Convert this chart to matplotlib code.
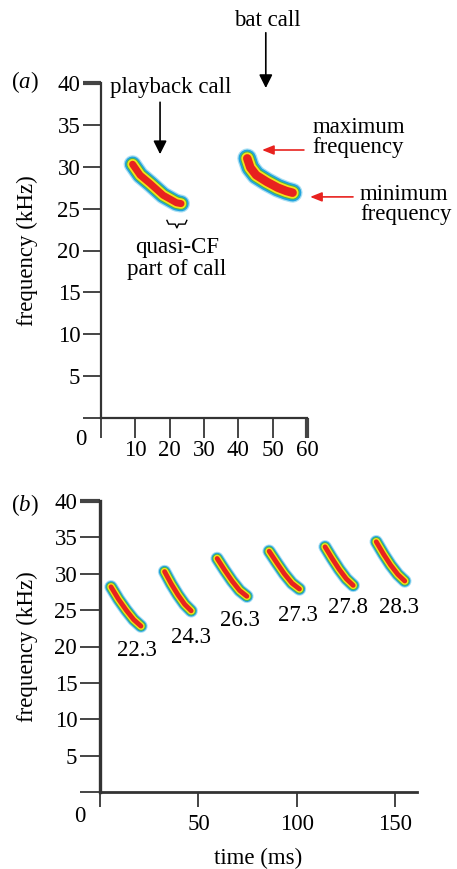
import matplotlib
matplotlib.use('Agg')
import matplotlib.pyplot as plt

plt.rcParams['font.family'] = ['Liberation Serif', 'DejaVu Serif']
plt.rcParams['font.size'] = 16.5
plt.rcParams['mathtext.fontset'] = 'custom'
plt.rcParams['mathtext.rm'] = 'Liberation Serif'
plt.rcParams['mathtext.it'] = 'Liberation Serif:italic'

# panel (a): playback call and bat call contours (time ms, frequency kHz)
playback_t = [9.2, 11.4, 14.3, 18.1, 22.0, 23.3]
playback_f = [30.3, 29.0, 28.0, 26.6, 25.7, 25.6]
bat_t = [42.6, 43.5, 45.2, 48.3, 51.5, 54.0, 55.8]
bat_f = [31.0, 29.9, 29.0, 28.2, 27.5, 27.1, 26.9]

# panel (b): six successive calls and their minimum frequencies
calls_t = [
    [5.6, 9.4, 13.3, 17.1, 20.8],
    [32.8, 36.2, 39.6, 43.0, 46.3],
    [59.5, 63.3, 67.1, 70.9, 74.6],
    [85.9, 89.8, 93.6, 97.5, 101.3],
    [114.3, 117.9, 121.5, 125.1, 128.6],
    [140.3, 144.0, 147.6, 151.3, 154.8],
]
calls_f = [
    [28.2, 26.5, 25.0, 23.7, 22.8],
    [30.3, 28.6, 27.1, 25.8, 24.9],
    [32.1, 30.5, 29.0, 27.7, 26.9],
    [33.1, 31.5, 30.0, 28.7, 27.9],
    [33.7, 32.1, 30.6, 29.3, 28.4],
    [34.4, 32.7, 31.2, 29.9, 29.0],
]
min_freq_labels = ['22.3', '24.3', '26.3', '27.3', '27.8', '28.3']
label_t = [18.8, 46.2, 71.0, 100.5, 126.0, 152.0]
label_f = [19.5, 21.3, 23.6, 24.3, 25.3, 25.4]

a_xticks = [0, 10, 20, 30, 40, 50, 60]
b_xticks = [0, 50, 100, 150]
yticks = [0, 5, 10, 15, 20, 25, 30, 35, 40]

# spectrogram-like colour layers, outermost first
layer_colors = ['#a8dff3', '#22a3dd', '#4fb548', '#f4e31a', '#e8221f']
PX = 0.72  # points per pixel at dpi 100


def draw_call(ax, t, f, widths):
    for c, w in zip(layer_colors, widths):
        ax.plot(t, f, color=c, lw=w * PX, solid_capstyle='round',
                solid_joinstyle='round', zorder=3)


def style_axes(ax, xticks, xlen, ylen, xpad):
    for s in ['top', 'right']:
        ax.spines[s].set_visible(False)
    ax.set_xticks(xticks)
    ax.set_xticklabels([''] + [str(v) for v in xticks[1:]])
    ax.set_yticks(yticks)
    ax.set_yticklabels([''] + [str(v) for v in yticks[1:]])
    ax.tick_params(axis='x', direction='out', length=xlen * PX, width=1.4,
                   color='#444444', pad=xpad)
    ax.tick_params(axis='y', direction='out', length=ylen * PX, width=1.4,
                   color='#444444', pad=2)
    ax.yaxis.get_major_ticks()[-1].tick1line.set_markeredgewidth(3)
    ax.yaxis.get_major_ticks()[-1].tick1line.set_color('black')


fig = plt.figure(figsize=(4.57, 8.69), dpi=100)

# ---------------- panel (a)
ax1 = fig.add_axes([101 / 457, 1 - 418 / 869, 206 / 457, 335 / 869])
ax1.set_xlim(0, 60)
ax1.set_ylim(0, 40)
for s in ['left', 'bottom']:
    ax1.spines[s].set_linewidth(1.6)
    ax1.spines[s].set_color('#333333')
style_axes(ax1, a_xticks, 20, 18, 1.5)
ax1.xaxis.get_major_ticks()[-1].tick1line.set_markeredgewidth(3)
ax1.xaxis.get_major_ticks()[-1].tick1line.set_color('black')

draw_call(ax1, playback_t, playback_f, [18, 15.5, 12.5, 10.5, 7])
draw_call(ax1, bat_t, bat_f, [20, 17.5, 14, 12, 8.5])

ax1.text(-22.1, 40.1, '($a$)', ha='center', va='center')
ax1.text(-5.8, -2.6, '0', ha='center', va='center')
ax1.text(-0.359, 0.5, 'frequency (kHz)', rotation=90, ha='center',
         va='center', transform=ax1.transAxes)

ax1.text(20.4, 39.5, 'playback call', ha='center', va='center')
ax1.annotate('', xy=(17.2, 31.5), xytext=(17.2, 37.7),
             arrowprops=dict(arrowstyle='-|>', color='black', lw=1.2,
                             mutation_scale=20, shrinkA=0, shrinkB=0),
             annotation_clip=False)
ax1.text(48.4, 47.5, 'bat call', ha='center', va='center')
ax1.annotate('', xy=(48.0, 39.4), xytext=(48.0, 46.0),
             arrowprops=dict(arrowstyle='-|>', color='black', lw=1.2,
                             mutation_scale=20, shrinkA=0, shrinkB=0),
             annotation_clip=False)

red_arrow = dict(arrowstyle='-|>,head_length=0.5,head_width=0.2',
                 color='#e8221f', lw=1.2, mutation_scale=14,
                 shrinkA=0, shrinkB=0)
ax1.annotate('', xy=(46.9, 32.0), xytext=(59.1, 32.0),
             arrowprops=red_arrow, annotation_clip=False)
ax1.text(61.5, 33.45, 'maximum\nfrequency', ha='left', va='center',
         linespacing=0.95)
ax1.annotate('', xy=(60.9, 26.4), xytext=(73.4, 26.4),
             arrowprops=red_arrow, annotation_clip=False)
ax1.text(75.4, 25.45, 'minimum\nfrequency', ha='left', va='center',
         linespacing=0.95)

# brace under the quasi-CF part
ax1.plot([19.2, 19.7, 21.6, 22.1, 22.6, 24.5, 25.0],
         [23.6, 23.15, 23.15, 22.7, 23.15, 23.15, 23.6],
         color='black', lw=1.0, clip_on=False)
ax1.text(22.1, 20.3, 'quasi-CF', ha='center', va='center')
ax1.text(22.1, 17.7, 'part of call', ha='center', va='center')

# ---------------- panel (b)
ax2 = fig.add_axes([100 / 457, 1 - 792 / 869, 317 / 457, 291 / 869])
ax2.set_xlim(0, 161)
ax2.set_ylim(0, 40)
ax2.spines['left'].set_linewidth(2.4)
ax2.spines['bottom'].set_linewidth(2.0)
for s in ['left', 'bottom']:
    ax2.spines[s].set_color('#333333')
style_axes(ax2, b_xticks, 15, 20, 5)

for t, f in zip(calls_t, calls_f):
    draw_call(ax2, t, f, [13.5, 11.5, 9.5, 7.5, 4.8])
for x, y, s in zip(label_t, label_f, min_freq_labels):
    ax2.text(x, y, s, ha='center', va='center')

ax2.text(-38, 39.5, '($b$)', ha='center', va='center')
ax2.text(-10.1, -3.4, '0', ha='center', va='center')
ax2.text(-0.230, 0.5, 'frequency (kHz)', rotation=90, ha='center',
         va='center', transform=ax2.transAxes)
ax2.text(0.498, -0.227, 'time (ms)', ha='center', va='center',
         transform=ax2.transAxes)

fig.savefig('out.png', dpi=100)
